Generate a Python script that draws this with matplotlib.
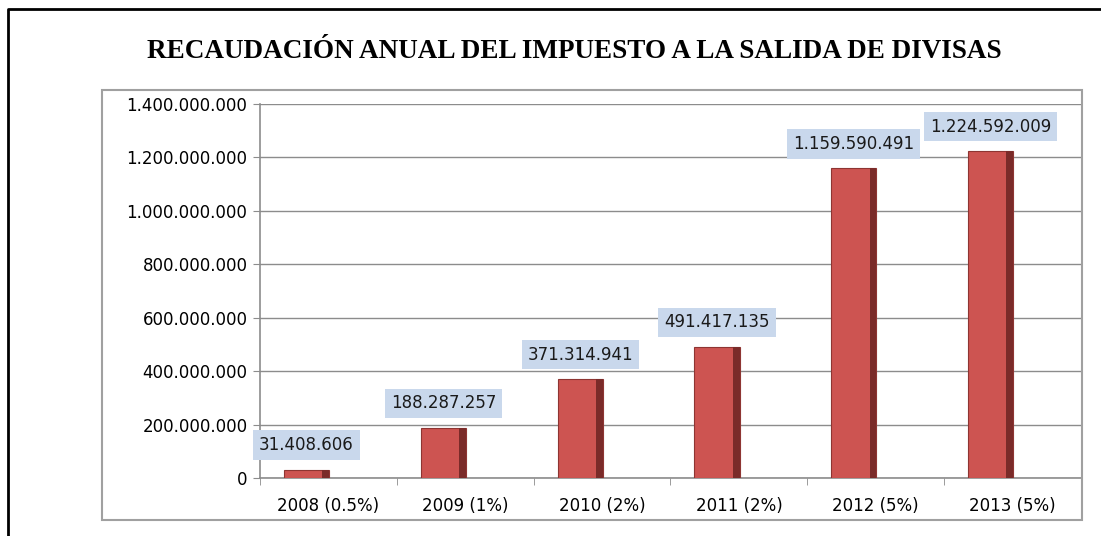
import numpy as np
import matplotlib.pyplot as plt
from matplotlib.lines import Line2D
from matplotlib.patches import Rectangle

# Datos
periodos = ['2008 (0.5%)', '2009 (1%)', '2010 (2%)', '2011 (2%)', '2012 (5%)', '2013 (5%)']
recaudacion = [31408606, 188287257, 371314941, 491417135, 1159590491, 1224592009]
eje_y = np.arange(0, 1400000001, 200000000)

W, H = 1101, 536
NUM_FONT = 'DejaVu Sans'


def miles(v):
    return f'{v:,}'.replace(',', '.')


def fx(px):
    return px / W


def fy(py):
    return 1 - py / H


fig = plt.figure(figsize=(W / 100, H / 100), dpi=100)

# marco exterior negro (solo izquierda y arriba visibles)
fig.add_artist(Line2D([fx(8), fx(8), 1], [0, fy(9), fy(9)], color='black', lw=2,
                      transform=fig.transFigure))
# recuadro gris del grafico
fig.add_artist(Rectangle((fx(102), fy(520)), fx(1082) - fx(102), fy(90) - fy(520),
                         transform=fig.transFigure, fill=False, ec='#a0a0a0', lw=1.5))

fig.text(fx(574), fy(52), 'RECAUDACIÓN ANUAL DEL IMPUESTO A LA SALIDA DE DIVISAS',
         family='Liberation Serif', weight='bold', size=19.5, ha='center', va='center')

ax = fig.add_axes([fx(260), fy(478), fx(1081) - fx(260), fy(104) - fy(478)])
x = np.arange(len(periodos))
shift = -0.16
ancho = 0.33

ax.bar(x + shift, recaudacion, width=ancho, color='#cd5451', edgecolor='#8e3532', lw=0.8, zorder=3)
# sombra lateral para imitar el bisel 3D
ax.bar(x + shift + ancho / 2 - 0.025, recaudacion, width=0.05, color='#7a2b29', lw=0, zorder=4)

for xi, v in zip(x, recaudacion):
    ax.annotate(miles(v), (xi + shift, v), xytext=(0, 11), textcoords='offset points',
                ha='center', va='bottom', family=NUM_FONT, size=12, color='#1a1a1a',
                bbox=dict(boxstyle='square,pad=0.35', fc='#c9d8ec', ec='none'), zorder=5)

ax.set_xlim(-0.5, len(periodos) - 0.5)
ax.set_ylim(0, 1400000000)
ax.set_yticks(eje_y)
ax.set_yticklabels([miles(int(v)) for v in eje_y], family=NUM_FONT, size=12)
ax.set_xticks(x)
ax.set_xticklabels(periodos, family=NUM_FONT, size=12)
ax.set_xticks(np.arange(len(periodos) + 1) - 0.5, minor=True)

ax.tick_params(axis='x', which='major', length=0, pad=14)
ax.tick_params(axis='x', which='minor', length=5, color='#8c8c8c', direction='out')
ax.tick_params(axis='y', length=5, color='#8c8c8c', pad=4)

ax.yaxis.grid(True, color='#8c8c8c', lw=1, zorder=0)
ax.set_axisbelow(True)
for s in ['top', 'right']:
    ax.spines[s].set_visible(False)
for s in ['left', 'bottom']:
    ax.spines[s].set_color('#8c8c8c')
    ax.spines[s].set_linewidth(1.2)

fig.savefig('out.png', dpi=100)
